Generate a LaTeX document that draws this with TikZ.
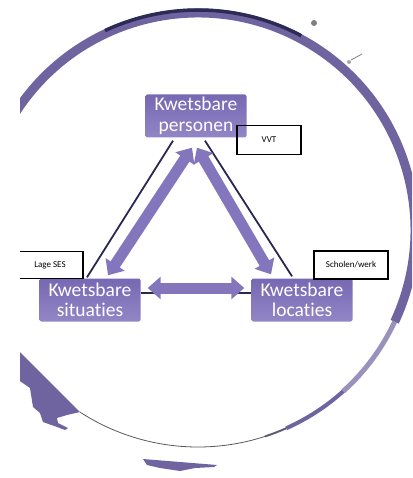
\documentclass[tikz,border=0pt]{standalone}
\usepackage{fontspec}
\newfontfamily\boxfont[Ligatures=NoCommon]{Carlito}
\usetikzlibrary{arrows.meta,calc,positioning}
\definecolor{ringc}{RGB}{111,100,160}
\definecolor{navyc}{RGB}{43,43,85}
\definecolor{linec}{RGB}{42,40,80}
\definecolor{arrc}{RGB}{132,118,188}
\definecolor{boxtop}{RGB}{118,104,178}
\definecolor{boxbot}{RGB}{146,134,198}

\begin{document}
\begin{tikzpicture}[x=1pt,y=1pt,
	kbox/.style={rectangle,rounded corners=2pt,top color=boxtop,bottom color=boxbot,text=white,
		font=\boxfont\fontsize{19.5}{20.5}\selectfont,align=center,
		minimum width=101pt,minimum height=43pt,inner sep=1pt},
	tag/.style={rectangle,draw=black,line width=1.1pt,text=black,
		font=\boxfont\fontsize{9}{10}\selectfont,inner sep=2pt},
	link/.style={draw=linec,line width=1.8pt},
	bigarr/.style={draw=arrc,line width=11pt,{Triangle[width=22pt,length=13pt]}-{Triangle[width=22pt,length=13pt]}},
	ring/.style={draw=ringc}]
	\useasboundingbox (0,0) rectangle (412,-478);
	\clip (20,0) rectangle (412,-478);
	% Kring
		\coordinate (c) at (198,-230);
		\draw[ring,line width=9pt] ($(c)+(150:217pt)$) arc[start angle=150,end angle=-25,radius=217pt];
		\draw[draw=navyc,line width=3.5pt] ($(c)+(115:220pt)$) arc[start angle=115,end angle=62,radius=220pt];
		\draw[ring,line width=5pt,opacity=.7] ($(c)+(-25:217pt)$) arc[start angle=-25,end angle=-48,radius=217pt];
		\draw[ring,line width=4pt] ($(c)+(-48:217pt)$) arc[start angle=-48,end angle=-66,radius=217pt];
		\draw[ring,line width=2pt] ($(c)+(-66:217pt)$) arc[start angle=-66,end angle=-72,radius=217pt];
		\draw[draw=black!65,line width=.8pt] ($(c)+(-66:217pt)$) arc[start angle=-66,end angle=-123,radius=217pt];
		\fill[ringc] (14,-346) -- (80,-412) -- (67,-415) -- (57,-418) -- (58,-423) -- (68,-428) -- (65,-430)
			-- (57,-427) -- (43,-422) -- (40,-413) -- (33,-407) -- (30,-388) -- (14,-377) -- cycle;
		\fill[ringc] (143,-459) -- (217,-465) -- (214,-467) -- (195,-468) -- (180,-471) -- (160,-468) -- (147,-465) -- cycle;
		\fill[gray] (314,-23) circle (3pt);
		\fill[gray!70] (349,-62) circle (2pt);
		\draw[gray,line width=.8pt] (351,-60) -- (362,-54);
	% Knopen
		\node (pers) at (196,-116) [kbox] {Kwetsbare\\personen};
		\node (sit) at (90,-300) [kbox] {Kwetsbare\\situaties};
		\node (loc) at (302,-300) [kbox] {Kwetsbare\\locaties};
		\node (vvt) at (269,-140) [tag,minimum width=64pt,minimum height=29pt] {VVT};
		\node (ses) at (50,-265) [tag,minimum width=66pt,minimum height=27pt] {Lage SES};
		\node (sch) at (351,-265) [tag,minimum width=74pt,minimum height=28pt] {Scholen/werk};
	% Lijnen
		\draw[link] ([shift={(-23pt,-3pt)}]pers.south) -- ([shift={(-3pt,1pt)}]sit.north);
		\draw[link] ([shift={(9pt,-3pt)}]pers.south) -- ([shift={(-10pt,2pt)}]loc.north);
		\draw[link] ([yshift=7pt]sit.east) -- ([yshift=7pt]loc.west);
		\draw[bigarr] ([shift={(-4pt,-10pt)}]pers.south) -- ([shift={(18pt,3pt)}]sit.north);
		\draw[bigarr] ([shift={(1pt,-10pt)}]pers.south) -- ([shift={(-31pt,4pt)}]loc.north);
		\draw[bigarr] ([shift={(7pt,12pt)}]sit.east) -- ([shift={(-7pt,12pt)}]loc.west);
\end{tikzpicture}
\end{document}
